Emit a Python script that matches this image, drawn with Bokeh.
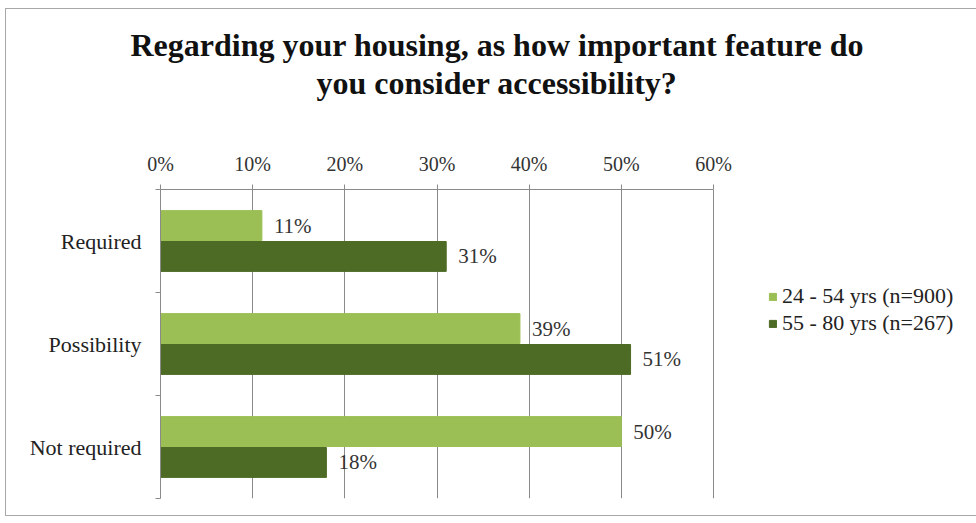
from bokeh.plotting import figure
from bokeh.models import (ColumnDataSource, Legend, LegendItem, LinearAxis, Title,
                          FixedTicker, NumeralTickFormatter, Range1d, LabelSet,
                          InlineStyleSheet)
from bokeh.embed import file_html
from bokeh.resources import INLINE

categories = ["Required", "Possibility", "Not required"]
series_names = ["24 - 54 yrs (n=900)", "55 - 80 yrs (n=267)"]
young = [11, 39, 50]
old = [31, 51, 18]
x_ticks = [0, 10, 20, 30, 40, 50, 60]
title_lines = ["Regarding your housing, as how important feature do",
               "you consider accessibility?"]

LIGHT = "#9bbf55"
DARK = "#4e6b25"
SERIF = "Liberation Serif"

W, H = 976, 523
LEFT, TOP, BOTTOM = 160, 189, 25
px_per_unit = 553 / 0.6
x_end = (W - LEFT) / px_per_unit

n = len(categories)
ypos = [n - 1 - i + 0.5 for i in range(n)]  # first category at top

src_y = ColumnDataSource(dict(y=[v + 0.15 for v in ypos], val=[v / 100 for v in young],
                              txt=[f"{v}%" for v in young]))
src_o = ColumnDataSource(dict(y=[v - 0.15 for v in ypos], val=[v / 100 for v in old],
                              txt=[f"{v}%" for v in old]))

p = figure(width=W, height=H, output_backend="svg", toolbar_location=None,
           x_range=Range1d(0, x_end), y_range=Range1d(0, n),
           x_axis_location=None, y_axis_location=None,
           min_border_left=LEFT, min_border_right=0, min_border_top=TOP,
           min_border_bottom=BOTTOM)
p.outline_line_color = None
p.background_fill_color = "white"
p.border_fill_color = "white"
p.stylesheets = [InlineStyleSheet(css=(
    ":host::after { content: ''; position: absolute; left: 5px; top: 8px; "
    "right: -20px; bottom: 7px; border: 1px solid #a8a8a8; pointer-events: none; "
    "z-index: 100; }"))]

r1 = p.hbar(y="y", right="val", left=0, height=0.29, source=src_y, color=LIGHT)
r2 = p.hbar(y="y", right="val", left=0, height=0.29, source=src_o, color=DARK)

for s in (src_y, src_o):
    p.add_layout(LabelSet(x="val", y="y", text="txt", source=s, x_offset=12,
                          text_baseline="middle", text_font=SERIF,
                          text_font_size="21px", text_color="#333333"))

# top axis
xa = LinearAxis(ticker=FixedTicker(ticks=[t / 100 for t in x_ticks]),
                formatter=NumeralTickFormatter(format="0%"), bounds=(0, 0.6))
xa.major_label_text_font = SERIF
xa.major_label_text_font_size = "20px"
xa.major_label_text_color = "#333333"
xa.axis_line_color = "#8a8a8a"
xa.major_tick_line_color = "#8a8a8a"
xa.major_tick_out = 5
xa.major_tick_in = 0
xa.minor_tick_line_color = None
xa.major_label_standoff = 10
p.add_layout(xa, "above")

# blank spacer between the axis and the title: one white tick, no labels
spacer = LinearAxis(ticker=FixedTicker(ticks=[0.8]), axis_line_color=None,
                    major_tick_line_color="white", minor_tick_line_color=None,
                    major_label_text_color=None,
                    major_tick_out=49, major_tick_in=0)
p.add_layout(spacer, "above")

# title: two lines, inner one first
t2 = Title(text=title_lines[1], align="left", offset=156, standoff=0,
           text_font=SERIF, text_font_style="bold", text_font_size="32px",
           text_color="#111111", text_line_height=1.0)
t1 = Title(text=title_lines[0], align="left", offset=-30, standoff=0,
           text_font=SERIF, text_font_style="bold", text_font_size="32px",
           text_color="#111111", text_line_height=1.0)
p.add_layout(t2, "above")
p.add_layout(t1, "above")

# left axis
ya = LinearAxis(ticker=FixedTicker(ticks=ypos, minor_ticks=list(range(n + 1))),
                major_label_overrides={ypos[i]: categories[i] for i in range(n)})
ya.major_label_text_font = SERIF
ya.major_label_text_font_size = "22px"
ya.major_label_text_color = "#222222"
ya.axis_line_color = "#8a8a8a"
ya.major_tick_line_color = None
ya.minor_tick_line_color = "#8a8a8a"
ya.minor_tick_out = 5
ya.minor_tick_in = 0
ya.major_label_standoff = 13
p.add_layout(ya, "left")

p.xgrid.ticker = FixedTicker(ticks=[t / 100 for t in x_ticks])
p.xgrid.grid_line_color = "#8a8a8a"
p.ygrid.grid_line_color = None

legend = Legend(items=[LegendItem(label=series_names[0], renderers=[r1]),
                       LegendItem(label=series_names[1], renderers=[r2])],
                location=(608, 162), orientation="vertical")
legend.label_text_font = SERIF
legend.label_text_font_size = "22px"
legend.label_text_color = "#222222"
legend.glyph_width = 9
legend.glyph_height = 9
legend.label_standoff = 5
legend.label_height = 22
legend.spacing = 1
legend.padding = 0
legend.margin = 0
legend.border_line_color = None
legend.background_fill_alpha = 0
p.add_layout(legend, "center")

open("out.html", "w").write(file_html(p, INLINE))
